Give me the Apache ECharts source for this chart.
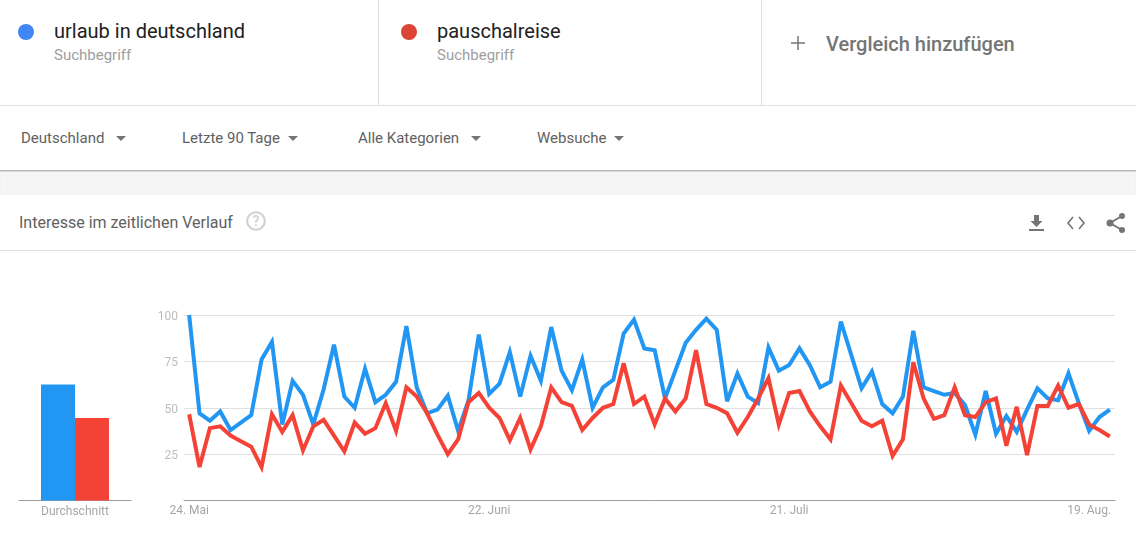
<!DOCTYPE html>
<html lang="de">
<head>
<meta charset="utf-8">
<title>Interesse im zeitlichen Verlauf</title>
<script src="https://cdn.jsdelivr.net/npm/echarts@6/dist/echarts.min.js"></script>
<style>
html,body{margin:0;padding:0;background:#fff;width:1136px;height:550px;overflow:hidden;font-family:Roboto,sans-serif}
.a{position:absolute;white-space:nowrap;line-height:1}
.hl,.vl{position:absolute;background:#e0e0e0}
.tri{position:absolute;width:0;height:0;border-left:5.5px solid transparent;border-right:5.5px solid transparent;border-top:5.5px solid #757575}
.dot{position:absolute;width:16px;height:16px;border-radius:50%}
.term{font-size:20px;color:#212121}
.sub{font-size:15px;color:#9e9e9e}
.flt{font-size:15px;color:#616161}
svg{position:absolute}
#chart{position:absolute;left:0;top:251px;width:1136px;height:299px}
</style>
</head>
<body>
<div class="vl" style="left:378px;top:0;width:1px;height:105px"></div>
<div class="vl" style="left:761px;top:0;width:1px;height:105px"></div>
<div class="hl" style="left:0;top:105px;width:1136px;height:1px"></div>

<div class="dot" style="left:18px;top:24px;background:#4285f4"></div>
<div class="a term" style="left:54px;top:21px">urlaub in deutschland</div>
<div class="a sub" style="left:54px;top:48px">Suchbegriff</div>
<div class="dot" style="left:401px;top:24px;background:#db4437"></div>
<div class="a term" style="left:437px;top:21px">pauschalreise</div>
<div class="a sub" style="left:437px;top:48px">Suchbegriff</div>
<svg style="left:790px;top:35px" width="16" height="16"><path d="M7.25 1h1.5v14h-1.5zM1 7.25h14v1.5H1z" fill="#757575"/></svg>
<div class="a" style="left:826px;top:34px;font-size:20px;font-weight:500;color:#757575">Vergleich hinzufügen</div>

<div class="a flt" style="left:21px;top:131px">Deutschland</div>
<div class="tri" style="left:115.5px;top:136px"></div>
<div class="a flt" style="left:182px;top:131px">Letzte 90 Tage</div>
<div class="tri" style="left:288px;top:136px"></div>
<div class="a flt" style="left:358px;top:131px">Alle Kategorien</div>
<div class="tri" style="left:471px;top:136px"></div>
<div class="a flt" style="left:537px;top:131px">Websuche</div>
<div class="tri" style="left:614px;top:136px"></div>

<div style="position:absolute;left:0;top:170px;width:1136px;height:25px;background:#f5f5f5;border-top:1px solid #b5b5b5;box-sizing:border-box;box-shadow:inset 0 1px 1px #d8d8d8"></div>
<div class="a" style="left:19px;top:215px;font-size:16px;color:#616161">Interesse im zeitlichen Verlauf</div>
<svg style="left:246px;top:211px" width="20" height="20"><circle cx="10" cy="10" r="8.8" fill="none" stroke="#cfcfcf" stroke-width="2"/><text x="10" y="15" text-anchor="middle" font-family="Roboto" font-size="14" font-weight="500" fill="#cfcfcf">?</text></svg>
<svg style="left:1028px;top:214px" width="18" height="18"><path d="M6 1h5v6h3.5L8.5 13 2.500 7H6z" fill="#757575"/><rect x="1" y="15" width="15" height="2" fill="#757575"/></svg>
<svg style="left:1066px;top:214px" width="20" height="18"><path d="M7 3L2 9l5 6M13 3l5 6-5 6" fill="none" stroke="#757575" stroke-width="1.600"/></svg>
<svg style="left:1106px;top:212px" width="20" height="22"><path d="M16 4L4 11l12 7" fill="none" stroke="#757575" stroke-width="2"/><circle cx="16" cy="4" r="3" fill="#757575"/><circle cx="4" cy="11" r="3.500" fill="#757575"/><circle cx="16" cy="18" r="3" fill="#757575"/></svg>
<div class="hl" style="left:0;top:250px;width:1136px;height:1px"></div>
<div id="chart"></div>

<script>
const categories = [
  '24. Mai','25. Mai','26. Mai','27. Mai','28. Mai','29. Mai','30. Mai','31. Mai',
  '1. Juni','2. Juni','3. Juni','4. Juni','5. Juni','6. Juni','7. Juni','8. Juni','9. Juni','10. Juni',
  '11. Juni','12. Juni','13. Juni','14. Juni','15. Juni','16. Juni','17. Juni','18. Juni','19. Juni','20. Juni','21. Juni','22. Juni',
  '23. Juni','24. Juni','25. Juni','26. Juni','27. Juni','28. Juni','29. Juni','30. Juni',
  '1. Juli','2. Juli','3. Juli','4. Juli','5. Juli','6. Juli','7. Juli','8. Juli','9. Juli','10. Juli',
  '11. Juli','12. Juli','13. Juli','14. Juli','15. Juli','16. Juli','17. Juli','18. Juli','19. Juli','20. Juli','21. Juli',
  '22. Juli','23. Juli','24. Juli','25. Juli','26. Juli','27. Juli','28. Juli','29. Juli','30. Juli','31. Juli',
  '1. Aug.','2. Aug.','3. Aug.','4. Aug.','5. Aug.','6. Aug.','7. Aug.','8. Aug.','9. Aug.','10. Aug.',
  '11. Aug.','12. Aug.','13. Aug.','14. Aug.','15. Aug.','16. Aug.','17. Aug.','18. Aug.','19. Aug.','20. Aug.','21. Aug.'
];
const xTickLabels = ['24. Mai','22. Juni','21. Juli','19. Aug.'];
const yTickLabels = ['25','50','75','100'];
const urlaubValues = [
  100,47,43,48,38,42,46,76,85.5,41,64.5,57,41,60,84,56,50,71,53,57,64,94,61,47,49,56.5,37.5,54,
  89.5,57.5,63,80,56,78,64.5,93.5,70,59.5,76,50,61,65,90,97.5,82,81,55,70,85,92,98,92,53.5,68.5,56,52.5,82.500,70,73,82,
  73,61,64,96.5,78.5,60.5,69.5,52,47,56,91.5,61,59,57,58,51.5,35.5,59,36,45.5,37,49,60.5,55,54,68.5,52.5,37.5,45,49
];
const pauschalValues = [
  46.5,18,39,40,35,32,29,18,46.5,37,46,27,40,43.5,35,26.5,42,36,39,52.5,37.5,61,56,47,35.5,25,33,53,
  58,50,44.5,32.5,44.5,27.5,40,61,53,51,38,44.5,50,52,74,52,56,41,55,48,55,81,52,50,47,36.5,45,55,66,41,58,59,
  48,40,33,62,52.5,43,40,43,24,33,74.5,55,44,46,61,46,45,53,55,29.5,50.5,24.5,51,51,62,50,52,41,38,34.5
];
const averageLabel = ['Durchschnitt'];
const urlaubAverage = [62.5];
const pauschalAverage = [44.5];

const BLUE = '#2196f3', RED = '#f44336';
const font = 'Roboto, sans-serif';
const chart = echarts.init(document.getElementById('chart'), null, {renderer: 'canvas'});
chart.setOption({
  animation: false,
  grid: [
    {left: 184, right: 21, top: 64, bottom: 49.500},
    {left: 19, width: 112, top: 64, bottom: 49.500}
  ],
  xAxis: [
    {
      type: 'category', gridIndex: 0, data: categories, boundaryGap: true,
      axisLine: {lineStyle: {color: '#9e9e9e', width: 1}},
      axisTick: {show: false},
      axisLabel: {
        color: '#a6a6a6', fontSize: 12, fontFamily: font, margin: 4,
        interval: (i, v) => xTickLabels.includes(v), hideOverlap: false
      },
      splitLine: {show: false}
    },
    {
      type: 'category', gridIndex: 1, data: averageLabel,
      axisLine: {lineStyle: {color: '#9e9e9e', width: 1}},
      axisTick: {show: false},
      axisLabel: {color: '#a6a6a6', fontSize: 12, fontFamily: font, margin: 5}
    }
  ],
  yAxis: [
    {
      type: 'value', gridIndex: 0, min: 0, max: 100, interval: 25,
      axisLine: {show: false}, axisTick: {show: false},
      axisLabel: {
        margin: 6,
        formatter: v => yTickLabels.includes(String(v)) ? '{t|' + v + '}' : '',
        rich: {t: {color: '#bdbdbd', fontSize: 12, fontFamily: font, padding: [4, 0, 0, 0]}}
      },
      splitLine: {lineStyle: {color: '#e0e0e0', width: 1}}
    },
    {
      type: 'value', gridIndex: 1, min: 0, max: 100,
      axisLine: {show: false}, axisTick: {show: false}, axisLabel: {show: false}, splitLine: {show: false}
    }
  ],
  series: [
    {name: 'urlaub in deutschland', type: 'line', xAxisIndex: 0, yAxisIndex: 0, data: urlaubValues,
     symbol: 'none', smooth: false, lineStyle: {color: BLUE, width: 4, join: 'miter', miterLimit: 4, cap: 'butt'}, itemStyle: {color: BLUE}, z: 3},
    {name: 'pauschalreise', type: 'line', xAxisIndex: 0, yAxisIndex: 0, data: pauschalValues,
     symbol: 'none', smooth: false, lineStyle: {color: RED, width: 4, join: 'miter', miterLimit: 4, cap: 'butt'}, itemStyle: {color: RED}, z: 4},
    {name: 'urlaub in deutschland', type: 'bar', xAxisIndex: 1, yAxisIndex: 1, data: urlaubAverage,
     barWidth: 34, barGap: 0, itemStyle: {color: BLUE}},
    {name: 'pauschalreise', type: 'bar', xAxisIndex: 1, yAxisIndex: 1, data: pauschalAverage,
     barWidth: 34, barGap: 0, itemStyle: {color: RED}}
  ]
});
</script>
</body>
</html>
